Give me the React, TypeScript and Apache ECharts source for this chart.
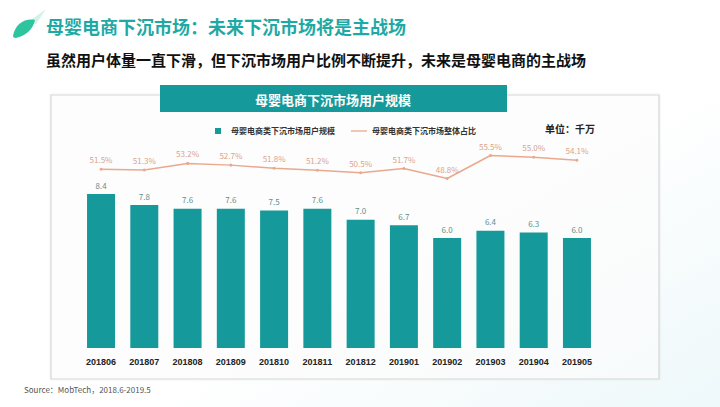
import React, { useEffect, useRef } from "react";
import * as echarts from "echarts";

const categories = ["201806", "201807", "201808", "201809", "201810", "201811", "201812", "201901", "201902", "201903", "201904", "201905"];
const userScale = [8.4, 7.8, 7.6, 7.6, 7.5, 7.6, 7.0, 6.7, 6.0, 6.4, 6.3, 6.0];
const sharePct = [51.5, 51.3, 53.2, 52.7, 51.8, 51.2, 50.5, 51.7, 48.8, 55.5, 55.0, 54.1];
const seriesNames = ["母婴电商类下沉市场用户规模", "母婴电商类下沉市场整体占比"];
const titleText = "母婴电商下沉市场：未来下沉市场将是主战场";
const subtitleText = "虽然用户体量一直下滑，但下沉市场用户比例不断提升，未来是母婴电商的主战场";
const bannerText = "母婴电商下沉市场用户规模";
const unitText = "单位：千万";
const sourceText = "Source：MobTech，2018.6-2019.5";

echarts.graphic.registerShape(
  "leafLogo",
  echarts.graphic.extendPath("M0 22 C2 10 12 4 22 6 C20 16 12 22 3 24 C1 24 0 23 0 22 Z", {})
);

export default function App() {
  const ref = useRef<HTMLDivElement>(null);
  useEffect(() => {
    const chart = echarts.init(ref.current!, null, { renderer: "svg" });
    const font = "'Noto Sans CJK SC', 'Noto Sans', sans-serif";
    chart.setOption({
      animation: false,
      backgroundColor: new echarts.graphic.LinearGradient(0, 0, 1, 1, [
        { offset: 0, color: "#ffffff" },
        { offset: 0.6, color: "#ffffff" },
        { offset: 1, color: "#eef8fa" },
      ]),
      textStyle: { fontFamily: font },
      graphic: [
        { type: "polygon", shape: { points: [[28, 22], [46, 9], [36, 24]] }, style: { fill: "#d4f1e8" } },
        { type: "leafLogo", x: 13, y: 14, scaleX: 1, scaleY: 1, style: { fill: "#2ec4a0" } },
        {
          type: "text", left: 46, top: 17,
          style: { text: titleText, fill: "#1fa9a4", font: `bold 18px ${font}` },
        },
        {
          type: "text", left: 46, top: 52,
          style: { text: subtitleText, fill: "#111", font: `bold 15px ${font}` },
        },
        {
          type: "rect", shape: { x: 51, y: 95, width: 608, height: 284 },
          style: { fill: "rgba(255,255,255,0.6)", stroke: "#d6d6d6", lineWidth: 1.2, shadowBlur: 3, shadowColor: "rgba(0,0,0,0.08)" },
          z: -1,
        },
        {
          type: "rect", shape: { x: 160, y: 85, width: 347, height: 27 },
          style: { fill: "#16999a" }, z: 5,
        },
        {
          type: "text", x: 333, y: 99, z: 6,
          style: { text: bannerText, fill: "#ffffff", font: `bold 13px ${font}`, align: "center", verticalAlign: "middle" },
        },
        {
          type: "text", left: 545, top: 123,
          style: { text: unitText, fill: "#222", font: `bold 10px ${font}` },
        },
        {
          type: "text", left: 24, top: 385,
          style: { text: sourceText, fill: "#555", font: `8px ${font}` },
        },
      ],
      legend: {
        top: 122,
        left: 210,
        itemGap: 16,
        itemWidth: 16,
        itemHeight: 6,
        symbolKeepAspect: true,
        textStyle: { fontSize: 8, fontWeight: "bold", color: "#333" },
        data: [
          { name: seriesNames[0], icon: "path://M0 0h5v5H0z", itemStyle: { color: "#16999a" } },
          { name: seriesNames[1], icon: "path://M0 0h20v1.6H0z", itemStyle: { color: "#e9a98e" } },
        ],
      },
      grid: { left: 79.4, right: 121.4, top: 128, bottom: 59 },
      xAxis: {
        type: "category",
        data: categories,
        axisLine: { show: false },
        axisTick: { show: false },
        axisLabel: { interval: 0, color: "#222", fontSize: 9, fontWeight: "bold", margin: 9, fontFamily: "Arial, 'Liberation Sans', sans-serif" },
      },
      yAxis: [
        { type: "value", min: 0, max: 12, show: false, splitLine: { show: false } },
        { type: "value", min: -0.5, max: 63.5, show: false, splitLine: { show: false } },
      ],
      series: [
        {
          name: seriesNames[0],
          type: "bar",
          data: userScale,
          barWidth: 28,
          itemStyle: { color: "#16999a" },
          label: {
            show: true, position: "top", distance: 5,
            formatter: (p: any) => p.value.toFixed(1),
            color: "#5f8f8f", fontSize: 8,
          },
        },
        {
          name: seriesNames[1],
          type: "line",
          yAxisIndex: 1,
          data: sharePct,
          symbol: "circle",
          symbolSize: 3,
          itemStyle: { color: "#e9a98e" },
          lineStyle: { color: "#e9a98e", width: 1.5 },
          label: {
            show: true, position: "top", distance: 4,
            formatter: (p: any) => p.value.toFixed(1) + "%",
            color: "#d9a48c", fontSize: 8,
          },
          z: 3,
        },
      ],
    });
    return () => chart.dispose();
  }, []);
  return <div ref={ref} style={{ position: "absolute", left: 0, top: 0, width: 720, height: 407 }} />;
}
